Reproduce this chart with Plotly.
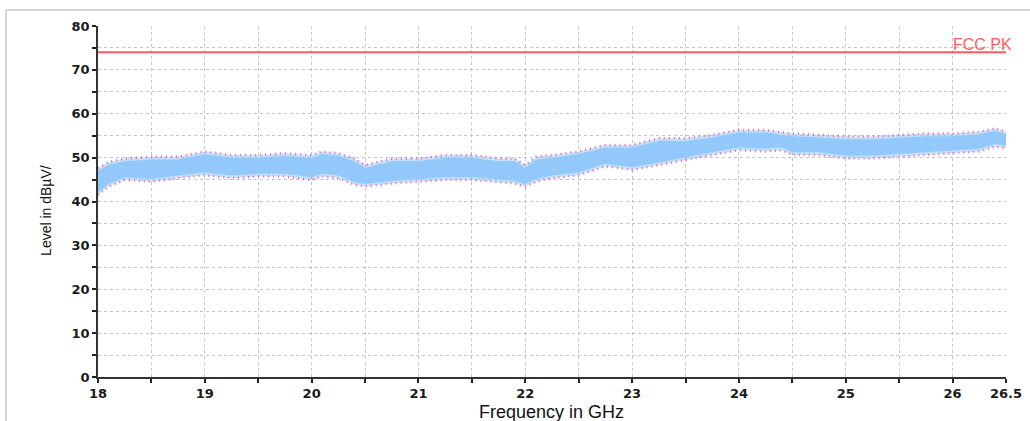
import plotly.graph_objects as go

# ---- data ----
freq_ghz = [18.0, 18.1, 18.25, 18.5, 18.75, 19.0, 19.25, 19.5, 19.75, 20.0, 20.1, 20.25, 20.4,
            20.5, 20.75, 21.0, 21.25, 21.5, 21.75, 21.9, 22.0, 22.1, 22.25, 22.5, 22.75, 23.0,
            23.25, 23.5, 23.75, 24.0, 24.25, 24.4, 24.5, 24.75, 25.0, 25.25, 25.5, 25.75, 26.0,
            26.25, 26.4, 26.5]
peak_upper = [47.6, 49.0, 49.8, 50.2, 50.2, 51.4, 50.6, 50.6, 51.0, 50.6, 51.4, 51.0, 49.8,
              48.3, 49.8, 49.8, 50.6, 50.6, 49.8, 49.8, 48.3, 50.2, 50.6, 51.4, 52.9, 52.9,
              54.4, 54.4, 55.2, 56.3, 56.3, 55.9, 55.5, 55.2, 54.8, 54.8, 55.2, 55.5, 55.5,
              55.9, 56.7, 55.9]
peak_lower = [41.5, 43.4, 44.9, 44.5, 45.3, 46.0, 45.3, 45.7, 45.7, 44.9, 45.7, 45.3, 43.8,
              43.4, 44.1, 44.5, 44.9, 44.9, 44.5, 44.1, 43.4, 44.5, 45.3, 46.0, 48.0, 47.2,
              48.3, 49.5, 50.6, 51.7, 51.4, 51.7, 50.6, 50.6, 49.8, 49.8, 50.2, 50.6, 51.0,
              51.4, 52.5, 52.1]
limit_freq = [18.0, 26.5]
limit_level = [74, 74]
limit_name = "FCC PK"
x_ticks = [18, 19, 20, 21, 22, 23, 24, 25, 26, 26.5]
x_tick_text = ["18", "19", "20", "21", "22", "23", "24", "25", "26", "26.5"]
y_ticks = [0, 10, 20, 30, 40, 50, 60, 70, 80]

INSET = 0.6  # dense-core inset (style)
core_upper = [u - INSET for u in peak_upper]
core_lower = [l + INSET for l in peak_lower]

PINK = "rgba(244,80,126,0.85)"
BLUE = "#92c8fa"
FONT = "Liberation Sans, Arial, sans-serif"

fig = go.Figure()
# outer (peak) envelope
fig.add_trace(go.Scatter(x=freq_ghz, y=peak_lower, mode="lines",
                         line=dict(color=PINK, width=2.5, dash="1px,4px"), showlegend=False,
                         hoverinfo="skip"))
fig.add_trace(go.Scatter(x=freq_ghz, y=peak_upper, mode="lines", fill="tonexty",
                         fillcolor="rgba(146,200,250,0.55)",
                         line=dict(color=PINK, width=2.5, dash="1px,4px"), showlegend=False,
                         hoverinfo="skip"))
# dense core
fig.add_trace(go.Scatter(x=freq_ghz, y=core_lower, mode="lines",
                         line=dict(color=BLUE, width=0), showlegend=False, hoverinfo="skip"))
fig.add_trace(go.Scatter(x=freq_ghz, y=core_upper, mode="lines", fill="tonexty",
                         fillcolor=BLUE, line=dict(color=BLUE, width=0), showlegend=False,
                         hoverinfo="skip"))
# limit line
fig.add_trace(go.Scatter(x=limit_freq, y=limit_level, mode="lines",
                         line=dict(color="#ff5c5c", width=2), showlegend=False,
                         hoverinfo="skip"))

fig.add_annotation(x=limit_freq[-1], y=limit_level[-1], text=limit_name, showarrow=False,
                   xanchor="right", yanchor="bottom", xshift=8, yshift=-3,
                   font=dict(family=FONT, size=16, color="#ff5c5c"))

# axis titles placed as annotations (paper coords)
fig.add_annotation(xref="paper", yref="paper", x=-0.0573, y=0.476, text="Level in dBµV/",
                   textangle=-90, showarrow=False, xanchor="center", yanchor="middle",
                   font=dict(family=FONT, size=14, color="#111"))
fig.add_annotation(xref="paper", yref="paper", x=0.4989, y=-0.0655, text="Frequency in GHz",
                   showarrow=False, xanchor="center", yanchor="top",
                   font=dict(family=FONT, size=18, color="#111"))

GRIDC = "#c4c4c4"
TICKF = dict(family="DejaVu Sans, sans-serif", size=13, color="#1a1a1a", weight="bold")
fig.update_xaxes(range=[18, 26.5], tickvals=x_ticks, ticktext=x_tick_text, automargin=False,
                 ticks="outside", ticklen=4, tickcolor="#222", tickwidth=1.5,
                 showline=True, linecolor="#333", linewidth=1.5,
                 minor=dict(dtick=0.5, tick0=18, ticks="outside", ticklen=4, tickcolor="#222",
                            showgrid=True, gridcolor=GRIDC, griddash="3px,3px"),
                 showgrid=True, gridcolor=GRIDC, griddash="3px,3px",
                 tickfont=TICKF, zeroline=False)
fig.update_yaxes(range=[0, 80], tickvals=y_ticks, automargin=False,
                 ticks="outside", ticklen=4, tickcolor="#222", tickwidth=1.5,
                 showline=True, linecolor="#333", linewidth=1.5,
                 minor=dict(dtick=5, tick0=0, ticks="outside", ticklen=4, tickcolor="#222",
                            showgrid=True, gridcolor=GRIDC, griddash="3px,3px"),
                 showgrid=True, gridcolor=GRIDC, griddash="3px,3px",
                 tickfont=TICKF, zeroline=False)

# outer frame (grey) around chart
fig.add_shape(type="line", xref="paper", yref="paper", x0=-0.1013, x1=1.04, y0=1.0456,
              y1=1.0456, line=dict(color="#c8c8c8", width=1.5))
fig.add_shape(type="line", xref="paper", yref="paper", x0=-0.1013, x1=-0.1013, y0=1.0456,
              y1=-0.2, line=dict(color="#c8c8c8", width=1.5))

fig.update_layout(width=1030, height=421, margin=dict(l=98, r=24, t=26, b=44),
                  paper_bgcolor="white", plot_bgcolor="white", showlegend=False,
                  font=dict(family=FONT))
fig.write_html("out.html", config={"displayModeBar": False},
               post_script="document.body.style.margin='0';document.body.style.overflow='hidden';")
